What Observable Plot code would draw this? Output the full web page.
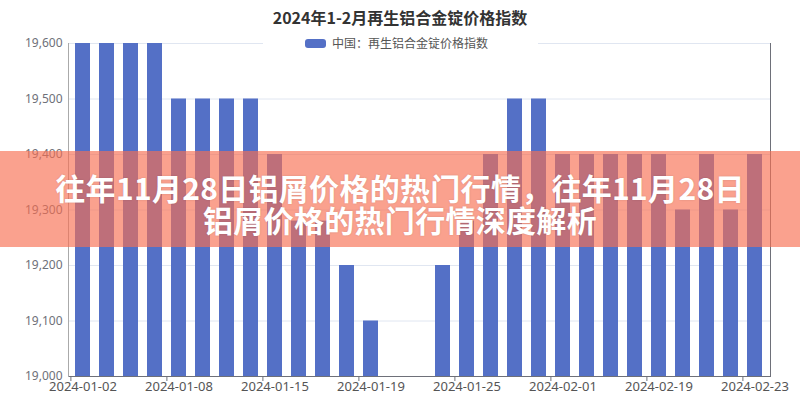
<!DOCTYPE html>
<html>
<head>
<meta charset="utf-8">
<script src="https://cdn.jsdelivr.net/npm/d3@7"></script>
<script src="https://cdn.jsdelivr.net/npm/@observablehq/plot@0.6"></script>
<style>
  html, body { margin: 0; padding: 0; background: #fff; }
  #wrap { position: relative; width: 800px; height: 400px; overflow: hidden; font-family: "Noto Sans CJK SC", "Noto Sans", sans-serif; }
  #chart { position: absolute; left: 0; top: 0; }
  #title { position: absolute; left: 0; top: 5px; width: 800px; text-align: center; font-size: 16px; font-weight: bold; color: #333; line-height: 24px; }
  #legend { position: absolute; left: 263px; top: 36px; width: 275px; height: 14px; background: #fff; }
  #legend .sw { position: absolute; left: 42px; top: 2.5px; width: 21px; height: 9px; border-radius: 3px; background: #5470C6; }
  #legend .tx { position: absolute; left: 69px; top: -2px; font-size: 12px; color: #555; line-height: 18px; white-space: nowrap; }
  #banner { position: absolute; left: 0; top: 151px; width: 800px; height: 96px; background: rgba(247,111,81,0.65); text-align: center; color: #fff; font-weight: bold; font-size: 30px; letter-spacing: 0.3px; line-height: 32px; padding-top: 20px; box-sizing: border-box; text-shadow: 0 0 2px rgba(0,0,0,0.15); }
</style>
</head>
<body>
<div id="wrap">
  <div id="chart"></div>
  <div id="title"></div>
  <div id="legend"><div class="sw"></div><div class="tx"></div></div>
  <div id="banner"></div>
</div>
<script>
const titleText = "2024年1-2月再生铝合金锭价格指数";
const seriesName = "中国：再生铝合金锭价格指数";
const bannerLines = ["往年11月28日铝屑价格的热门行情，往年11月28日", "铝屑价格的热门行情深度解析"];

const dates = [
  "2024-01-02","2024-01-03","2024-01-04","2024-01-05",
  "2024-01-08","2024-01-09","2024-01-10","2024-01-11",
  "2024-01-15","2024-01-16","2024-01-17","2024-01-18",
  "2024-01-19","2024-01-22","2024-01-23","2024-01-24",
  "2024-01-25","2024-01-26","2024-01-29","2024-01-30",
  "2024-02-01","2024-02-02","2024-02-05","2024-02-06",
  "2024-02-19","2024-02-20","2024-02-21","2024-02-22",
  "2024-02-23"
];
const values = [
  19600, 19600, 19600, 19600,
  19500, 19500, 19500, 19500,
  19400, 19280, 19280, 19200,
  19100, null, null, 19200,
  19280, 19400, 19500, 19500,
  19400, 19400, 19400, 19400,
  19400, 19300, 19400, 19300,
  19400
];
const xTickLabels = ["2024-01-02","2024-01-08","2024-01-15","2024-01-19","2024-01-25","2024-02-01","2024-02-19","2024-02-23"];
const yTicks = [19000, 19100, 19200, 19300, 19400, 19500, 19600];

const data = dates.map((d, i) => ({date: d, value: values[i]}));

const W = 800, H = 400, mL = 68, mR = 30, mT = 43, mB = 24;
const step = (W - mL - mR) / dates.length;

const chart = Plot.plot({
  width: W, height: H,
  marginLeft: mL, marginRight: mR, marginTop: mT, marginBottom: mB,
  style: {fontFamily: "'Noto Sans', 'Noto Sans CJK SC', sans-serif", color: "#6E7079", background: "transparent"},
  x: {domain: dates, paddingInner: 0.36, paddingOuter: 0.18, axis: null, label: null},
  y: {domain: [yTicks[0], yTicks[yTicks.length - 1]], axis: null, label: null},
  marks: [
    Plot.ruleY(yTicks.slice(1), {stroke: "#E0E6F1"}),
    Plot.barY(data.filter(d => d.value != null), {x: "date", y1: yTicks[0], y2: "value", fill: "#5470C6"}),
    Plot.ruleY([yTicks[0]], {stroke: "#6E7079"}),
    Plot.frame({anchor: "left", stroke: "#aaaaaa"}),
    Plot.frame({anchor: "right", stroke: "#6E7079"}),
    Plot.axisY({ticks: yTicks, tickFormat: d3.format(","), tickSize: 0, tickPadding: 6, fontSize: 12, anchor: "left", label: null}),
    Plot.axisX({ticks: xTickLabels, tickSize: 0, tickPadding: 5, fontSize: 13, anchor: "bottom", fill: "#555", label: null}),
    Plot.axisX({ticks: xTickLabels, tickSize: 5, tickFormat: () => "", anchor: "bottom", dx: -step / 2, stroke: "#6E7079", label: null})
  ]
});
document.getElementById("chart").appendChild(chart);
document.getElementById("title").textContent = titleText;
document.querySelector("#legend .tx").textContent = seriesName;
const b = document.getElementById("banner");
bannerLines.forEach((t, i) => { if (i) b.appendChild(document.createElement("br")); b.appendChild(document.createTextNode(t)); });
</script>
</body>
</html>
